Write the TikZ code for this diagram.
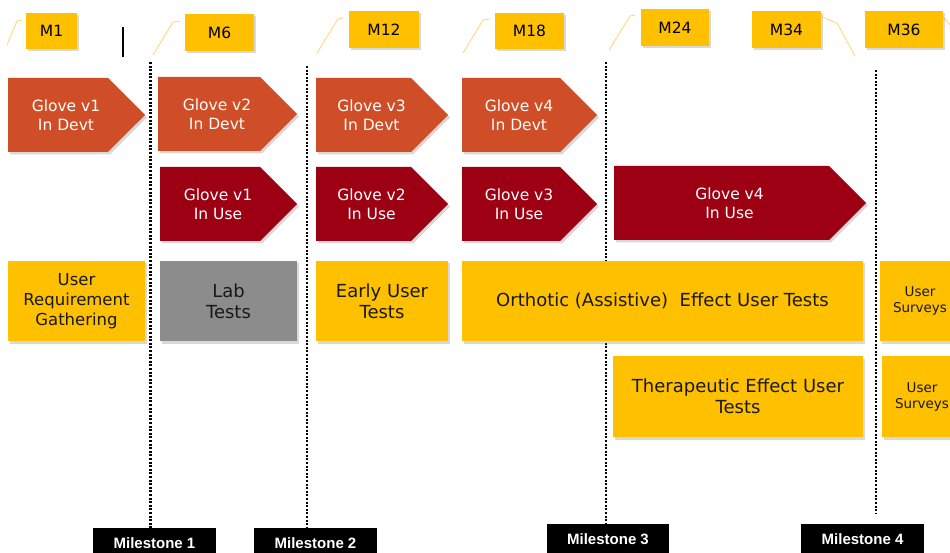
\documentclass[tikz,border=0pt]{standalone}
\usepackage{fontspec}
\setmainfont{DejaVu Sans}
\newfontfamily\msfont{Liberation Sans}
\usetikzlibrary{shapes,arrows,shadows}

\definecolor{amber}{HTML}{FFC000}
\definecolor{devt}{HTML}{D04E27}
\definecolor{inuse}{HTML}{9C0012}
\definecolor{labgray}{HTML}{8C8C8C}
\definecolor{leader}{HTML}{FFD87A}

% two text lines, nudged towards the tip
\newcommand{\chevlines}[2]{\hspace*{16pt}#1\\\hspace*{16pt}#2}

\tikzset{
  softshadow/.style={drop shadow={shadow xshift=2pt,shadow yshift=-2.5pt,opacity=0.3}},
  month/.style={fill=amber,inner sep=0pt,softshadow,font=\fontsize{15.5}{18}\selectfont},
  chevron/.style={signal,signal to=east,signal pointer angle=90,inner sep=0pt,
    text=white,align=center,softshadow,font=\fontsize{15.5}{18.5}\selectfont},
  task/.style={fill=amber,inner sep=0pt,align=center,text=black!90,softshadow,
    font=\fontsize{18}{21}\selectfont},
  milestone/.style={fill=black,text=white,inner sep=0pt,font=\msfont\bfseries\fontsize{15}{18}\selectfont},
  gate/.style={line width=2.2pt,dash pattern=on 2pt off 1.6pt},
  lead/.style={leader,line width=0.9pt}
}

\begin{document}
\begin{tikzpicture}[x=1pt,y=-1pt]
       \useasboundingbox (0,0) rectangle (950,553);
       \clip (0,0) rectangle (950,553);
       % month markers
       \draw[lead] (7,45) -- (17,21) -- (22,20);
       \draw[lead] (153,55) -- (173,22) -- (180,21);
       \draw[lead] (317,53) -- (338,19) -- (343,18);
       \draw[lead] (463,53) -- (483,20) -- (490,19);
       \draw[lead] (609,50) -- (630,16) -- (635,15);
       \draw[lead] (822,17) -- (837,23) -- (855,56);
       \draw[lead] (943,17) -- (952,27);
       \node[month,minimum width=51pt,minimum height=36pt] (m1) at (51.5,31) {M1};
       \node[month,minimum width=69pt,minimum height=37pt] (m6) at (219.5,32.5) {M6};
       \node[month,minimum width=70pt,minimum height=37pt] (m12) at (384,29.5) {M12};
       \node[month,minimum width=69pt,minimum height=36pt] (m18) at (529.5,31) {M18};
       \node[month,minimum width=68pt,minimum height=37pt] (m24) at (675,27.5) {M24};
       \node[month,minimum width=69pt,minimum height=37pt] (m34) at (786.5,29.5) {M34};
       \node[month,minimum width=78pt,minimum height=37pt] (m36) at (904,29.5) {M36};
       \draw[line width=1.3pt] (123,27) -- (123,57);
       % milestone gates
       \draw[gate] (150.5,62) -- (150.5,528);
       \draw[gate] (307,66) -- (307,528);
       \draw[gate] (606,62) -- (606,524);
       \draw[gate] (876,70) -- (876,514);
       % glove versions in development
       \node[chevron,fill=devt,minimum width=137pt,minimum height=74pt] (dv1) at (58,115) {\chevlines{Glove v1}{In Devt}};
       \node[chevron,fill=devt,minimum width=139pt,minimum height=74pt] (dv2) at (209,114) {\chevlines{Glove v2}{In Devt}};
       \node[chevron,fill=devt,minimum width=132pt,minimum height=74pt] (dv3) at (363.5,115) {\chevlines{Glove v3}{In Devt}};
       \node[chevron,fill=devt,minimum width=135pt,minimum height=74pt] (dv4) at (511,115) {\chevlines{Glove v4}{In Devt}};
       % glove versions in use
       \node[chevron,fill=inuse,minimum width=137pt,minimum height=74pt] (us1) at (210,204) {\chevlines{Glove v1}{In Use}};
       \node[chevron,fill=inuse,minimum width=132pt,minimum height=74pt] (us2) at (363.5,204) {\chevlines{Glove v2}{In Use}};
       \node[chevron,fill=inuse,minimum width=135pt,minimum height=74pt] (us3) at (511,204) {\chevlines{Glove v3}{In Use}};
       \node[chevron,fill=inuse,minimum width=252pt,minimum height=74pt] (us4) at (721.5,203) {\chevlines{Glove v4}{In Use}};
       % user studies
       \node[task,minimum width=137pt,minimum height=80pt,font=\fontsize{16.5}{20}\selectfont] (req) at (76.5,301) {User\\Requirement\\Gathering};
       \node[task,fill=labgray,minimum width=137pt,minimum height=80pt] (lab) at (228.5,301) {Lab\\Tests};
       \node[task,minimum width=132pt,minimum height=80pt] (early) at (382,301) {Early User\\Tests};
       \node[task,minimum width=401pt,minimum height=80pt] (ortho) at (662.5,301) {Orthotic (Assistive)\ \ Effect User Tests};
       \node[task,minimum width=80pt,minimum height=80pt,font=\fontsize{13.5}{16}\selectfont] (srv1) at (920,301) {User\\Surveys};
       \node[task,minimum width=250pt,minimum height=81pt] (thera) at (738,396.5) {Therapeutic Effect User\\Tests};
       \node[task,minimum width=80pt,minimum height=81pt,font=\fontsize{13.5}{16}\selectfont] (srv2) at (922,396.5) {User\\Surveys};
       % milestones
       \node[milestone,minimum width=123pt,minimum height=30pt] (ms1) at (154.5,543) {Milestone 1};
       \node[milestone,minimum width=123pt,minimum height=30pt] (ms2) at (315.5,543) {Milestone 2};
       \node[milestone,minimum width=122pt,minimum height=30pt] (ms3) at (608,539) {Milestone 3};
       \node[milestone,minimum width=123pt,minimum height=30pt] (ms4) at (862.5,539) {Milestone 4};
\end{tikzpicture}
\end{document}
